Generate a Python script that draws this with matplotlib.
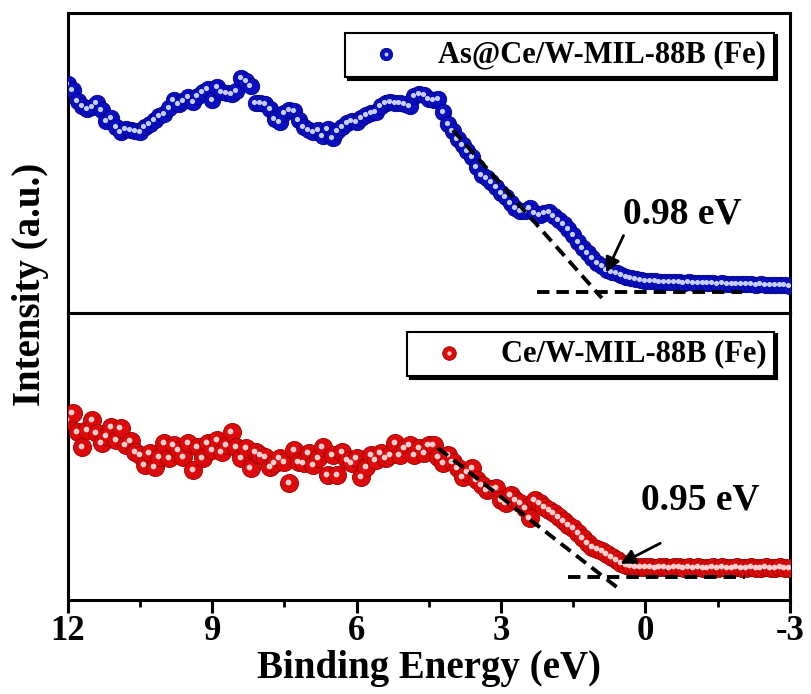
import numpy as np
import matplotlib
matplotlib.use("Agg")
import matplotlib.pyplot as plt
import matplotlib.transforms as mtransforms
from matplotlib.legend_handler import HandlerTuple

plt.rcParams['font.family'] = ['Liberation Serif', 'DejaVu Serif']
plt.rcParams['font.weight'] = 'bold'
plt.rcParams['axes.labelweight'] = 'bold'
plt.rcParams['axes.unicode_minus'] = False

# binding energy grid (eV), 12 -> -3
energy = np.round(np.arange(120, -31, -1) / 10.0, 1)

# As@Ce/W-MIL-88B (Fe), intensity (a.u.)
as_mof = [
    229, 223, 212, 207, 204, 206, 210, 203, 192, 195,
    186, 181, 184, 183, 182, 181, 186, 189, 193, 197,
    199, 205, 213, 209, 212, 216, 211, 217, 221, 224,
    213, 226, 221, 220, 219, 222, 235, 232, 227, 210,
    210, 209, 204, 194, 191, 200, 203, 202, 193, 186,
    183, 181, 183, 177, 184, 175, 182, 186, 190, 192,
    191, 195, 198, 200, 201, 207, 210, 211, 210, 210,
    209, 207, 217, 219, 218, 214, 213, 214, 201, 189,
    182, 174, 168, 162, 156, 146, 138, 135, 131, 126,
    120, 116, 110, 105, 102, 102, 105, 100, 98, 100,
    101, 97, 93, 89, 84, 78, 71, 65, 60, 55,
    50, 47, 43, 41, 40, 38, 36, 35, 34, 33,
    32, 32, 32, 31, 31, 31, 31, 31, 30, 31,
    30, 30, 30, 30, 30, 29, 30, 29, 29, 29,
    29, 29, 29, 28, 29, 28, 28, 28, 28, 28,
    27,
]

# Ce/W-MIL-88B (Fe), intensity (a.u.)
mof = [
    180, 187, 168, 153, 170, 180, 167, 157, 164, 173,
    160, 172, 155, 159, 148, 145, 135, 147, 133, 143,
    157, 142, 155, 150, 143, 157, 130, 153, 142, 157,
    150, 160, 148, 155, 168, 153, 142, 152, 132, 148,
    145, 143, 133, 137, 142, 138, 117, 150, 138, 137,
    147, 135, 142, 153, 125, 145, 125, 148, 140, 137,
    142, 123, 133, 145, 140, 147, 142, 145, 157, 145,
    152, 155, 145, 152, 147, 155, 155, 143, 137, 145,
    138, 132, 123, 128, 132, 120, 115, 110, 111, 112,
    100, 97, 105, 100, 97, 92, 82, 100, 97, 93,
    90, 87, 83, 79, 75, 72, 67, 62, 57, 53,
    51, 49, 46, 43, 40, 37, 35, 34, 33, 33,
    33, 33, 32, 33, 33, 32, 33, 33, 32, 33,
    32, 33, 32, 32, 33, 32, 33, 32, 32, 33,
    32, 32, 33, 32, 32, 33, 32, 32, 33, 32,
    32,
]

labels = ["As@Ce/W-MIL-88B (Fe)", "Ce/W-MIL-88B (Fe)"]
gaps = ["0.98 eV", "0.95 eV"]

# Tauc-style extrapolation lines (energy, intensity)
tangent_e = [[4.0, 0.905], [4.31, 0.57]]
tangent_i = [[183, 15], [152, 12]]
base_e = [[2.26, -2.0], [1.61, -2.07]]
base_i = [[21, 21], [23, 23]]
arrow_tail = [(0.43, 80), (-0.36, 58)]
arrow_head = [(0.84, 38), (0.57, 35)]
text_pos = [(-0.76, 99), (-1.15, 100)]

colors = [("#0a10c0", "#00008a", "#c8d0ff"), ("#dc0a0a", "#a00000", "#ffd0d0")]
msize = [140, 170]

fig = plt.figure(figsize=(8.11, 6.94), dpi=100)
ax1 = fig.add_axes([0.0838, 0.549, 0.890, 0.432])
ax2 = fig.add_axes([0.0838, 0.1354, 0.890, 0.4136])
ylims = [(0, 300), (0, 287)]

for i, (ax, data) in enumerate(zip([ax1, ax2], [as_mof, mof])):
    face, edge, hi = colors[i]
    main = ax.scatter(energy, data, s=msize[i], c=face, edgecolors=edge,
                      linewidths=0.6, zorder=3)
    shift = mtransforms.offset_copy(ax.transData, fig=fig, x=-1.5, y=1.5,
                                    units='dots')
    glow = ax.scatter(energy, data, s=msize[i] * 0.1, c=hi, linewidths=0,
                      transform=shift, zorder=4)
    ax.plot(tangent_e[i], tangent_i[i], '--', color='black', lw=2.8,
            dashes=(3.2, 1.8), zorder=5)
    ax.plot(base_e[i], base_i[i], '--', color='black', lw=2.8,
            dashes=(3.2, 1.8), zorder=5)
    ax.annotate("", xy=arrow_head[i], xytext=arrow_tail[i],
                arrowprops=dict(arrowstyle='-|>', color='black', lw=2,
                                mutation_scale=22), zorder=6)
    ax.text(text_pos[i][0], text_pos[i][1], gaps[i], fontsize=27,
            fontweight='bold', ha='center', va='center')
    leg = ax.legend([(main, glow)], [labels[i]],
                    handler_map={tuple: HandlerTuple(ndivide=1)},
                    loc='upper right', bbox_to_anchor=(0.978, 0.935),
                    borderaxespad=0, fontsize=22, frameon=True, fancybox=False,
                    shadow={'color': 'black', 'alpha': 1}, handlelength=2.2,
                    handletextpad=0.6, borderpad=0.25, markerscale=0.75)
    leg.get_frame().set_edgecolor('black')
    leg.get_frame().set_linewidth(1.5)
    ax.set_xlim(12, -3)
    ax.set_ylim(*ylims[i])
    ax.set_yticks([])
    for sp in ax.spines.values():
        sp.set_linewidth(2.2)

ax1.set_xticks([])
ax2.set_xticks([12, 9, 6, 3, 0, -3])
ax2.set_xticks([10.5, 7.5, 4.5, 1.5, -1.5], minor=True)
ax2.tick_params(axis='x', which='major', direction='out', length=9, width=2.2,
                labelsize=25, pad=2)
ax2.tick_params(axis='x', which='minor', direction='out', length=5, width=2)
ax2.set_xlabel("Binding Energy (eV)", fontsize=28, fontweight='bold', labelpad=1)
fig.text(0.037, 0.59, "Intensity (a.u.)", rotation=90, fontsize=28,
         fontweight='bold', ha='center', va='center')

fig.savefig("out.png", dpi=100)
